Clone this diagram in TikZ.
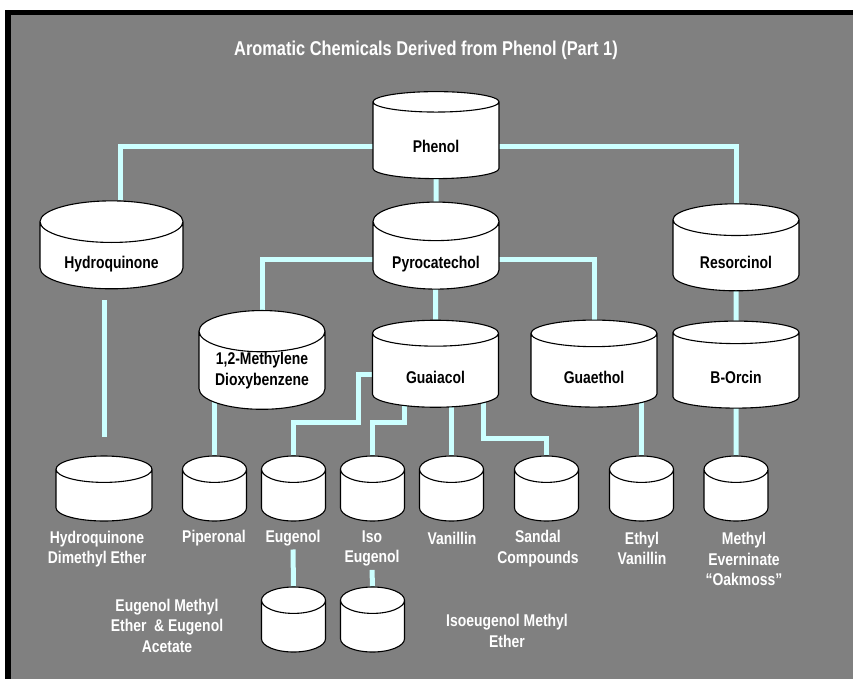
\documentclass[tikz,border=0pt]{standalone}
\usepackage{fontspec}
\setmainfont{Liberation Sans}[FakeStretch=0.82]
\usetikzlibrary{shapes.geometric, backgrounds}
\definecolor{fondo}{HTML}{808080}
\definecolor{cian}{HTML}{CCFFFF}

\begin{document}
\begin{tikzpicture}[x=1pt, y=-1pt,
  every node/.style={font=\bfseries\fontsize{17}{20.5}\selectfont, align=center},
  cilbase/.style={cylinder, shape border rotate=90, draw, fill=white, line width=1.1pt,
    aspect=0.44, minimum width=126pt, minimum height=87pt, inner sep=0pt},
  cil/.style={cilbase, text height=25pt, text depth=0pt},
  cilchico/.style={cilbase, aspect=1.32, minimum width=64pt, minimum height=65pt,
    text width=20pt, text height=10pt, text depth=0pt, anchor=shape center},
  rotulo/.style={text=white},
  enlace/.style={draw=cian, line width=5pt}]
  \useasboundingbox (0,0) rectangle (853,679);
  % marco
  \begin{scope}[on background layer]
    \fill[black] (5,10) rectangle (853,679);
    \fill[fondo] (11,15) rectangle (853,679);
  \end{scope}
  \node[rotulo, font=\bfseries\fontsize{20}{24}\selectfont] (titulo) at (426,50)
    {Aromatic Chemicals Derived from Phenol (Part 1)};
  % niveles 1 a 3
  \node[cil] (fenol) at (436,140.5) {Phenol};
  \node[cil, minimum width=143pt] (hidro) at (111.5,255.5) {Hydroquinone};
  \node[cil] (pirocat) at (436,255.5) {Pyrocatechol};
  \node[cil] (resor) at (736,255.5) {Resorcinol};
  \node[cilbase] (metil) at (262,370.5) {1,2-Methylene\\Dioxybenzene};
  \node[cil] (guayacol) at (435.5,370.5) {Guaiacol};
  \node[cil] (guaetol) at (594,370.5) {Guaethol};
  \node[cil] (borcin) at (736,370.5) {B-Orcin};
  % derivados
  \node[cilchico, minimum width=96pt] (hdme) at (104,488.5) {\phantom{X}};
  \node[cilchico] (piper) at (214.5,488.5) {\phantom{X}};
  \node[cilchico] (eug) at (293.5,488.5) {\phantom{X}};
  \node[cilchico] (iso) at (372.5,488.5) {\phantom{X}};
  \node[cilchico] (vain) at (451.5,488.5) {\phantom{X}};
  \node[cilchico] (sandalo) at (546.5,488.5) {\phantom{X}};
  \node[cilchico] (etilv) at (641.5,488.5) {\phantom{X}};
  \node[cilchico] (mevern) at (736,488.5) {\phantom{X}};
  \node[cilchico] (eugb) at (293.5,619.5) {\phantom{X}};
  \node[cilchico] (isob) at (372.5,619.5) {\phantom{X}};
  % rotulos
  \node[rotulo] (hdmel) at (97,549) {Hydroquinone\\Dimethyl Ether};
  \node[rotulo] (piperl) at (214,538) {Piperonal};
  \node[rotulo] (eugl) at (293,538) {Eugenol};
  \node[rotulo] (isol) at (372,548.5) {Iso\\Eugenol};
  \node[rotulo] (vainl) at (452,538) {Vanillin};
  \node[rotulo] (sandalol) at (538,548.5) {Sandal\\Compounds};
  \node[rotulo] (etilvl) at (642,548.5) {Ethyl\\Vanillin};
  \node[rotulo] (mevernl) at (744,559) {Methyl\\Everninate\\``Oakmoss''};
  \node[rotulo] (eugbl) at (167,625.5) {Eugenol Methyl\\Ether~ \& Eugenol\\Acetate};
  \node[rotulo] (isobl) at (507,631) {Isoeugenol Methyl\\Ether};
  % conexiones (debajo de los cilindros)
  \begin{scope}[on background layer]
    \draw[enlace] ([yshift=-6.5pt]fenol.center) -| ([xshift=8.5pt]hidro.north);
    \draw[enlace] ([yshift=-6.5pt]fenol.center) -| (resor.north);
    \draw[enlace] (fenol.center) -- (pirocat.north);
    \draw[enlace] ([yshift=-3.5pt]pirocat.center) -| (metil.north);
    \draw[enlace] ([yshift=-3.5pt]pirocat.center) -| (guaetol.north);
    \draw[enlace] (pirocat.center) -- (guayacol.north);
    \draw[enlace] (resor.center) -- (borcin.north);
    \draw[enlace, shorten <=11pt, shorten >=18pt] (hdme.north |- hidro.south) -- (hdme.north);
    \draw[enlace] (piper.north |- metil.center) -- (piper.north);
    \draw[enlace] ([yshift=-3.5pt]guayacol.center) -| ++(-77,48) -| (eug.north);
    \draw[enlace] ([xshift=-31.5pt]guayacol.center) -- ++(0,51.5) -| (iso.north);
    \draw[enlace] (vain.north |- guayacol.center) -- (vain.north);
    \draw[enlace] ([xshift=47.5pt]guayacol.center) -- ++(0,68) -| (sandalo.north);
    \draw[enlace] (etilv.north |- guaetol.center) -- (etilv.north);
    \draw[enlace] (borcin.center) -- (mevern.north);
    \draw[enlace] (eugl.south) -- (eugb.north);
    \draw[enlace] (isol.south) -- (isob.north);
  \end{scope}
\end{tikzpicture}
\end{document}
